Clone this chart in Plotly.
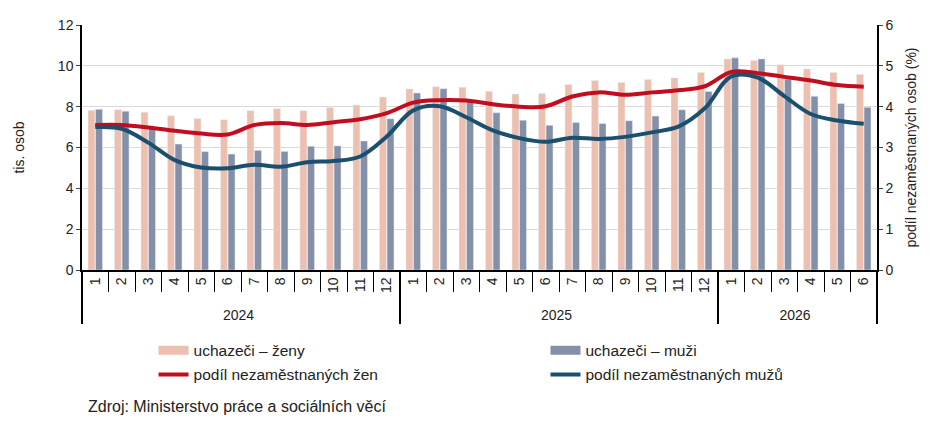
import plotly.graph_objects as go

# Categories: year / month
years = ["2024"] * 12 + ["2025"] * 12 + ["2026"] * 6
months = ["1", "2", "3", "4", "5", "6", "7", "8", "9", "10", "11", "12",
          "1", "2", "3", "4", "5", "6", "7", "8", "9", "10", "11", "12",
          "1", "2", "3", "4", "5", "6"]

# Job seekers (thousands)
women = [7.82, 7.85, 7.73, 7.55, 7.42, 7.36, 7.80, 7.90, 7.80, 7.96, 8.08, 8.47,
         8.87, 8.98, 8.95, 8.75, 8.62, 8.65, 9.08, 9.28, 9.18, 9.33, 9.41, 9.67,
         10.34, 10.26, 10.05, 9.85, 9.67, 9.58]
men = [7.87, 7.78, 6.95, 6.17, 5.80, 5.68, 5.86, 5.81, 6.06, 6.08, 6.32, 7.41,
       8.67, 8.88, 8.30, 7.70, 7.34, 7.09, 7.22, 7.18, 7.31, 7.54, 7.85, 8.74,
       10.39, 10.34, 9.35, 8.51, 8.15, 7.97]

# Share of unemployed (%)
share_women = [3.55, 3.55, 3.49, 3.41, 3.34, 3.32, 3.55, 3.60, 3.55, 3.62, 3.69, 3.84,
               4.10, 4.16, 4.15, 4.06, 4.00, 4.01, 4.25, 4.35, 4.29, 4.35, 4.40, 4.50,
               4.85, 4.82, 4.73, 4.64, 4.53, 4.49]
share_men = [3.50, 3.46, 3.12, 2.69, 2.51, 2.49, 2.58, 2.53, 2.64, 2.67, 2.78, 3.27,
             3.91, 4.01, 3.74, 3.42, 3.23, 3.14, 3.24, 3.21, 3.26, 3.37, 3.51, 3.96,
             4.74, 4.71, 4.26, 3.82, 3.66, 3.58]

x = [years, months]
font = "Liberation Sans, Arial, sans-serif"
c_women, c_men = "#EDBFAE", "#8490A8"
c_red, c_blue = "#C00D1F", "#1A4F6E"

fig = go.Figure()
fig.add_trace(go.Bar(x=x, y=women, name="uchazeči – ženy", marker_color=c_women, showlegend=False))
fig.add_trace(go.Bar(x=x, y=men, name="uchazeči – muži", marker_color=c_men, showlegend=False))
fig.add_trace(go.Scatter(x=x, y=share_women, name="podíl nezaměstnaných žen", yaxis="y2",
                         mode="lines", line=dict(color=c_red, width=4, shape="spline"),
                         legend="legend", legendgroup="b"))
fig.add_trace(go.Scatter(x=x, y=share_men, name="podíl nezaměstnaných mužů", yaxis="y2",
                         mode="lines", line=dict(color=c_blue, width=4, shape="spline"),
                         legend="legend2", legendgroup="d"))

# legend entries for the bars drawn as wide flat swatches
fig.add_trace(go.Scatter(x=[[years[0]], [months[0]]], y=[None], name="uchazeči – ženy",
                         mode="lines", line=dict(color=c_women, width=9),
                         legend="legend", legendgroup="a", legendrank=1, hoverinfo="skip"))
fig.add_trace(go.Scatter(x=[[years[0]], [months[0]]], y=[None], name="uchazeči – muži",
                         mode="lines", line=dict(color=c_men, width=9),
                         legend="legend2", legendgroup="c", legendrank=1, hoverinfo="skip"))

legend_style = dict(orientation="v", yanchor="top", xanchor="left", y=-0.26,
                    font=dict(size=15.5), tracegroupgap=1, bgcolor="rgba(0,0,0,0)")

fig.update_layout(
    width=945, height=423,
    margin=dict(l=74, r=76, t=17, b=161, autoexpand=False),
    paper_bgcolor="white", plot_bgcolor="white",
    font=dict(family=font, size=13, color="#222"),
    barmode="group", bargap=0.43, bargroupgap=0.08,
    showlegend=True,
    legend=dict(x=0.09, **legend_style),
    legend2=dict(x=0.583, **legend_style),
    xaxis=dict(type="multicategory", showline=True, linecolor="black", linewidth=1.5,
               ticks="outside", tickson="boundaries", ticklen=20, tickcolor="black",
               tickangle=-90, showdividers=True, dividercolor="black", dividerwidth=1.5,
               tickfont=dict(size=14), automargin=False),
    yaxis=dict(range=[0, 12], dtick=2, showline=True, linecolor="black", linewidth=1.5,
               ticks="outside", ticklen=4, gridcolor="#DADADA", zeroline=False,
               title=dict(text="tis. osob", font=dict(size=14), standoff=30),
               tickfont=dict(size=14), automargin=False),
    yaxis2=dict(range=[0, 6], dtick=1, overlaying="y", side="right", showline=True,
                linecolor="black", linewidth=1.5, ticks="outside", ticklen=4,
                showgrid=False, zeroline=False,
                title=dict(text="podíl nezaměstnaných osob (%)", font=dict(size=14), standoff=14),
                tickfont=dict(size=14), automargin=False),
    annotations=[dict(text="Zdroj: Ministerstvo práce a sociálních věcí", xref="paper", yref="paper",
                      x=0.005, y=-0.559, xanchor="left", yanchor="middle", showarrow=False,
                      font=dict(size=16, color="#222"))],
)

fig.write_html("out.html")
